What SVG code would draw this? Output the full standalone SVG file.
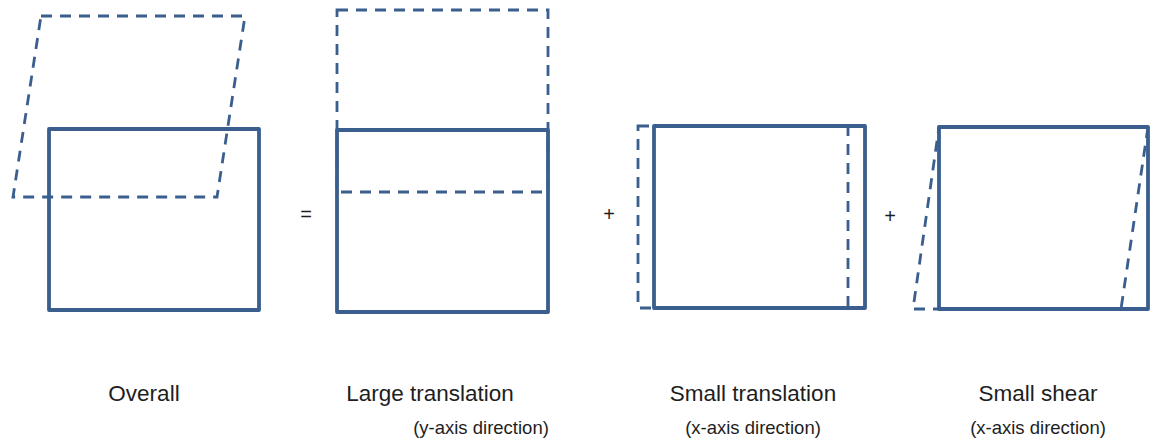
<svg xmlns="http://www.w3.org/2000/svg" width="1153" height="440" viewBox="0 0 1153 440">
  <style>
    .solid { fill: none; stroke: #3A5E8E; stroke-width: 3.8; stroke-linejoin: round; }
    .dash { fill: none; stroke: #3A5E8E; stroke-width: 2.8; stroke-dasharray: 11 8; }
    .label { font-family: "Liberation Sans", Arial, sans-serif; font-size: 22.5px; fill: #1e1e1e; }
    .sub { font-family: "Liberation Sans", Arial, sans-serif; font-size: 18.5px; fill: #1e1e1e; }
    .op { font-family: "Liberation Sans", Arial, sans-serif; font-size: 20px; fill: #1e1e1e; }
  </style>
  <rect width="1153" height="440" fill="#fff"/>

  <!-- combined transform -->
  <g id="overall">
    <polygon class="dash" points="41,16 245,16 217,197 13,197"/>
    <rect class="solid" x="49" y="129" width="210" height="181"/>
    <text class="label" x="144" y="401" text-anchor="middle">Overall</text>
  </g>

  <text class="op" x="306" y="221" text-anchor="middle">=</text>

  <!-- vertical shift -->
  <g id="large-translation">
    <rect class="dash" x="337" y="10" width="211" height="182"/>
    <rect class="solid" x="337" y="130" width="211" height="182"/>
    <text class="label" x="430" y="401" text-anchor="middle">Large translation</text>
    <text class="sub" x="481" y="434" text-anchor="middle">(y-axis direction)</text>
  </g>

  <text class="op" x="609" y="221" text-anchor="middle">+</text>

  <!-- horizontal shift -->
  <g id="small-translation">
    <rect class="dash" x="638" y="126" width="210" height="182"/>
    <rect class="solid" x="654" y="126" width="211" height="182"/>
    <text class="label" x="753" y="401" text-anchor="middle">Small translation</text>
    <text class="sub" x="753" y="434" text-anchor="middle">(x-axis direction)</text>
  </g>

  <text class="op" x="890" y="223" text-anchor="middle">+</text>

  <!-- horizontal shear -->
  <g id="small-shear">
    <polygon class="dash" points="939,127 1148,127 1121,309 913,309"/>
    <rect class="solid" x="939" y="127" width="209" height="182"/>
    <text class="label" x="1038" y="401" text-anchor="middle">Small shear</text>
    <text class="sub" x="1038" y="434" text-anchor="middle">(x-axis direction)</text>
  </g>

  <g id="connectors"></g>
</svg>
